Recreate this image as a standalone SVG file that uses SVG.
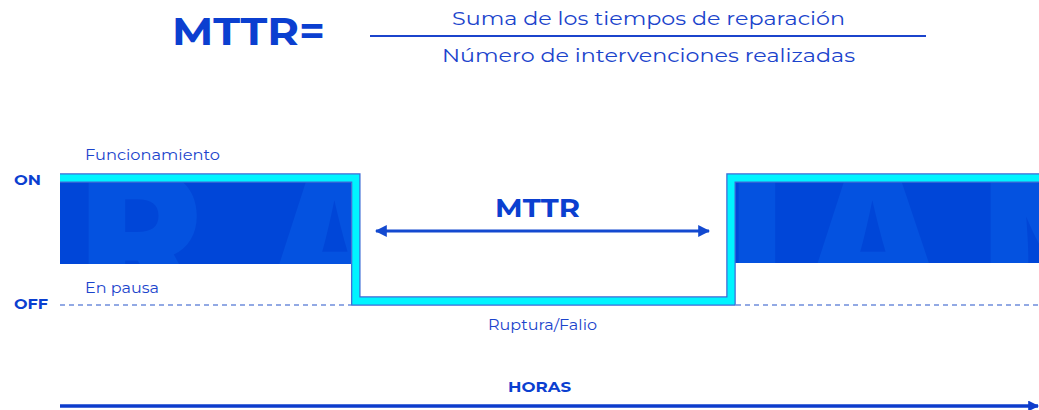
<svg xmlns="http://www.w3.org/2000/svg" width="1039" height="410" viewBox="0 0 1039 410">
<style>
.t{font-family:"Montserrat","Inter","Noto Sans",sans-serif;fill:#1b44cc}
.b{font-weight:700;fill:#0b3fd0}
.wm{font-family:"Inter","Noto Sans",sans-serif;font-weight:900;font-size:185px;fill:#0452e0}
</style>
<defs>
<marker id="ah" viewBox="0 0 10 10" refX="9" refY="5" markerWidth="4" markerHeight="4" orient="auto-start-reverse" markerUnits="strokeWidth">
<path d="M0,0 L10,5 L0,10 z" fill="#1349d0"/>
</marker>
<marker id="ah2" viewBox="0 0 10 10" refX="9" refY="5" markerWidth="3.2" markerHeight="3.2" orient="auto" markerUnits="strokeWidth">
<path d="M0,0 L10,5 L0,10 z" fill="#0d3ccc"/>
</marker>
<pattern id="wmark" patternUnits="userSpaceOnUse" x="0" y="0" width="1039" height="410">
<rect x="0" y="0" width="1039" height="410" fill="#0046d8"/>
<text class="wm" x="80 262" y="305">RA</text>
<text class="wm" x="730 800 982" y="305">IAN</text>
</pattern>
</defs>
<rect width="1039" height="410" fill="#ffffff"/>

<g id="formula">
<text class="t b" x="172" y="45" font-size="39" textLength="153" lengthAdjust="spacingAndGlyphs">MTTR=</text>
<text class="t" x="452" y="25" font-size="19" textLength="393" lengthAdjust="spacingAndGlyphs">Suma de los tiempos de reparación</text>
<line x1="370" y1="36" x2="926" y2="36" stroke="#1b44cc" stroke-width="2"/>
<text class="t" x="442" y="62" font-size="19" textLength="413" lengthAdjust="spacingAndGlyphs">Número de intervenciones realizadas</text>
</g>

<g id="labels">
<text class="t" x="85" y="159.5" font-size="15" textLength="135" lengthAdjust="spacingAndGlyphs">Funcionamiento</text>
<text class="t b" x="14" y="185" font-size="14" textLength="27" lengthAdjust="spacingAndGlyphs">ON</text>
<text class="t" x="85" y="292.5" font-size="15" textLength="74" lengthAdjust="spacingAndGlyphs">En pausa</text>
<text class="t b" x="14" y="309" font-size="14" textLength="34" lengthAdjust="spacingAndGlyphs">OFF</text>
<text class="t" x="488" y="329.5" font-size="15" textLength="109" lengthAdjust="spacingAndGlyphs">Ruptura/Falio</text>
<text class="t b" x="508" y="392" font-size="14" textLength="63" lengthAdjust="spacingAndGlyphs">HORAS</text>
</g>

<g id="block-on-left">
<rect x="60" y="182" width="291" height="82" fill="url(#wmark)"/>
</g>
<g id="block-on-right">
<rect x="735" y="182" width="304" height="81" fill="url(#wmark)"/>
</g>

<g id="connectors">
<line x1="60" y1="305" x2="351" y2="305" stroke="#6f8ddb" stroke-width="1.6" stroke-dasharray="5 4"/>
<line x1="736" y1="305" x2="1039" y2="305" stroke="#6f8ddb" stroke-width="1.6" stroke-dasharray="5 4"/>
<path d="M60,178 H355.8 V301 H731 V178 H1039" fill="none" stroke="#3b6ad6" stroke-width="9.5"/>
<path d="M60,178 H355.8 V301 H731 V178 H1039" fill="none" stroke="#00f4ff" stroke-width="7"/>
<line x1="376" y1="231" x2="709" y2="231" stroke="#1349d0" stroke-width="3" marker-start="url(#ah)" marker-end="url(#ah)"/>
<line x1="60" y1="406" x2="1038" y2="406" stroke="#0d3ccc" stroke-width="3.4" marker-end="url(#ah2)"/>
</g>

<g id="mttr-label">
<text class="t b" x="495" y="217" font-size="26" textLength="85" lengthAdjust="spacingAndGlyphs">MTTR</text>
</g>
</svg>
